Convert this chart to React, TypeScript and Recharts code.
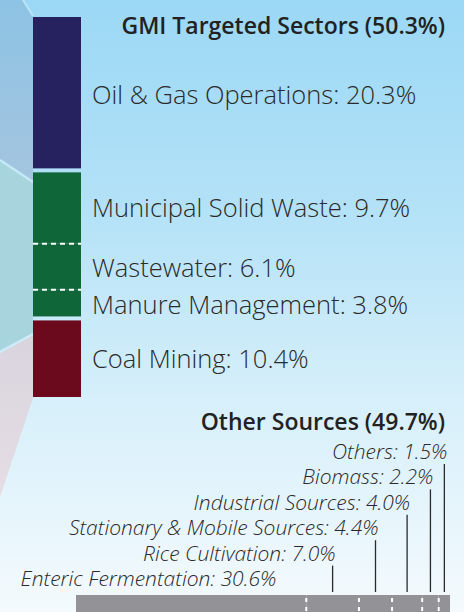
import React from 'react';
import { BarChart, Bar, XAxis, YAxis, LabelList } from 'recharts';

// ---- Data ----
const gmiTitle = 'GMI Targeted Sectors';
const gmiCategories = ['Oil & Gas Operations', 'Municipal Solid Waste', 'Wastewater', 'Manure Management', 'Coal Mining'];
const gmiValues = [20.3, 9.7, 6.1, 3.8, 10.4];
const gmiColors = ['#26215f', '#0f6638', '#0f6638', '#0f6638', '#6b0a1d'];

const otherTitle = 'Other Sources';
const otherCategories = ['Enteric Fermentation', 'Rice Cultivation', 'Stationary & Mobile Sources', 'Industrial Sources', 'Biomass', 'Others'];
const otherValues = [30.6, 7.0, 4.4, 4.0, 2.2, 1.5];
const otherColor = '#939397';

const FONT = '"Open Sans", "Noto Sans", "DejaVu Sans", sans-serif';
const TEXT = '#2a2a2a';

const sum = (a: number[]) => Math.round(a.reduce((s, v) => s + v, 0) * 10) / 10;
const gmiTotal = sum(gmiValues);
const otherTotal = sum(otherValues);

const gmiRow: Record<string, any> = { name: 'GMI' };
gmiValues.forEach((v, i) => (gmiRow['g' + i] = v));
const gmiData = [gmiRow];

const otherRow: Record<string, any> = { name: 'Other' };
otherValues.forEach((v, i) => (otherRow['o' + i] = v));
const otherData = [otherRow];

const W = 464;
const H = 612;

const gmiShape = (i: number) => (props: any) => {
  const { x, y, width, height } = props;
  const gapTop = i > 0 && gmiColors[i - 1] !== gmiColors[i] ? 2 : 0;
  const gapBottom = i < gmiColors.length - 1 && gmiColors[i + 1] !== gmiColors[i] ? 2 : 0;
  const dashedBottom = i < gmiColors.length - 1 && gmiColors[i + 1] === gmiColors[i];
  return (
    <g>
      <rect x={x} y={y + gapTop} width={width} height={Math.max(0, height - gapTop - gapBottom)} fill={gmiColors[i]} />
      {dashedBottom && (
        <line x1={x} x2={x + width} y1={y + height} y2={y + height} stroke="#ffffff" strokeWidth={2} strokeDasharray="5 4" />
      )}
    </g>
  );
};

const gmiLabel = (i: number) => (props: any) => {
  const { x, y, width, height } = props;
  return (
    <text x={x + width + 11} y={y + height / 2} dominantBaseline="central" fontFamily={FONT} fontWeight={300} fontSize={25.5} fill={TEXT}>
      {`${gmiCategories[i]}: ${gmiValues[i].toFixed(1)}%`}
    </text>
  );
};

const otherShape = (i: number) => (props: any) => {
  const { x, y, width, height } = props;
  return (
    <g>
      <rect x={x} y={y} width={width} height={height} fill={otherColor} />
      {i > 0 && (
        <line x1={x} x2={x} y1={y} y2={y + height} stroke="#ffffff" strokeWidth={2} strokeDasharray="4 5" strokeDashoffset={-3} />
      )}
    </g>
  );
};

const OTHER_RIGHT = 450;
const otherLabel = (i: number) => (props: any) => {
  const { x, y, width } = props;
  const labelY = y - 17 - 25.4 * i;
  const cx = x + width / 2;
  const end = i === 0 ? x + width - 30 : Math.min(cx + 3, OTHER_RIGHT - 2);
  return (
    <g>
      {i > 0 && <line x1={cx} x2={cx} y1={y - 3} y2={labelY + 13} stroke="#2a2a2a" strokeWidth={1.3} />}
      <text x={end} y={labelY} textAnchor="end" dominantBaseline="central" fontFamily={FONT} fontWeight={300} fontStyle="italic" fontSize={21} fill={TEXT}>
        {`${otherCategories[i]}: ${otherValues[i].toFixed(1)}%`}
      </text>
    </g>
  );
};

export default function App() {
  const order = gmiValues.map((_, i) => i).reverse();
  return (
    <div
      style={{
        position: 'absolute',
        left: 0,
        top: 0,
        width: W,
        height: H,
        overflow: 'hidden',
        background: 'linear-gradient(180deg, #9bd8f5 0%, #b4e2f7 35%, #d6effa 65%, #f4fafd 100%)',
      }}
    >
      <svg width={W} height={H} style={{ position: 'absolute', left: 0, top: 0 }}>
        <defs>
          <linearGradient id="regA" x1="0" y1="0" x2="0" y2="1">
            <stop offset="0%" stopColor="#8dc3e4" />
            <stop offset="100%" stopColor="#a4c5df" />
          </linearGradient>
          <linearGradient id="regC" x1="0" y1="0" x2="0" y2="1">
            <stop offset="0%" stopColor="#d8d4de" />
            <stop offset="100%" stopColor="#e6dde4" />
          </linearGradient>
        </defs>
        <polygon points="0,0 23,0 33,16 33,182 0,160" fill="url(#regA)" />
        <polygon points="0,160 33,182 33,334 0,352" fill="#a7d4dd" />
        <polygon points="0,352 33,334 33,398 0,497" fill="url(#regC)" />
        <line x1={23} y1={0} x2={33} y2={16} stroke="#b9e4f7" strokeWidth={2} />
        <line x1={0} y1={160} x2={33} y2={182} stroke="#c4e9f7" strokeWidth={2.5} />
        <line x1={0} y1={352} x2={33} y2={334} stroke="#cdebf8" strokeWidth={2.5} />
        <text x={445} y={25} textAnchor="end" dominantBaseline="central" fontFamily={FONT} fontWeight={600} fontSize={23} fill="#222">
          {`${gmiTitle} (${gmiTotal.toFixed(1)}%)`}
        </text>
        <text x={445} y={421} textAnchor="end" dominantBaseline="central" fontFamily={FONT} fontWeight={600} fontSize={23} fill="#222">
          {`${otherTitle} (${otherTotal.toFixed(1)}%)`}
        </text>
      </svg>

      <div style={{ position: 'absolute', left: 0, top: 0 }}>
        <BarChart width={W} height={H} data={gmiData} margin={{ top: 17, bottom: H - 397, left: 33, right: W - 81 }} barCategoryGap={0} barGap={0}>
          <XAxis dataKey="name" hide />
          <YAxis type="number" domain={[0, gmiTotal]} hide />
          {order.map((i) => (
            <Bar key={i} dataKey={'g' + i} stackId="gmi" isAnimationActive={false} shape={gmiShape(i)}>
              <LabelList dataKey={'g' + i} content={gmiLabel(i)} />
            </Bar>
          ))}
        </BarChart>
      </div>

      <div style={{ position: 'absolute', left: 0, top: 0 }}>
        <BarChart
          width={W}
          height={640}
          data={otherData}
          layout="vertical"
          margin={{ top: 595, bottom: 10, left: 76, right: W - OTHER_RIGHT }}
          barCategoryGap={0}
          barGap={0}
        >
          <XAxis type="number" domain={[0, otherTotal]} hide />
          <YAxis type="category" dataKey="name" hide />
          {otherValues.map((_, i) => (
            <Bar key={i} dataKey={'o' + i} stackId="other" isAnimationActive={false} shape={otherShape(i)}>
              <LabelList dataKey={'o' + i} content={otherLabel(i)} />
            </Bar>
          ))}
        </BarChart>
      </div>
    </div>
  );
}
